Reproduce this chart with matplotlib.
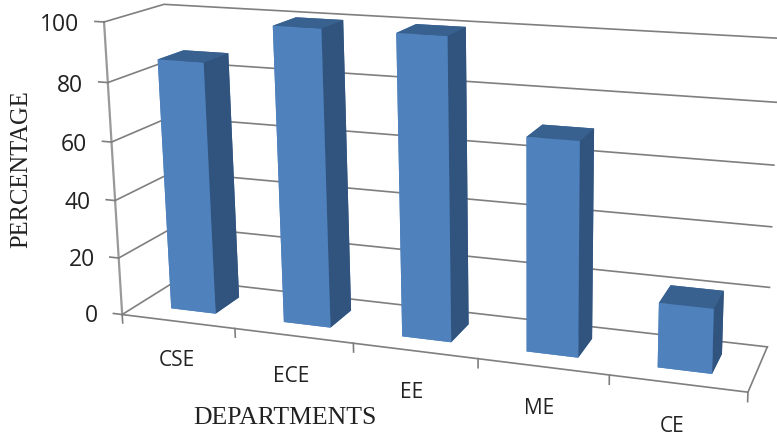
#!/usr/bin/env python3
"""3D column chart: percentage per department."""

import matplotlib
matplotlib.use("Agg")
import matplotlib.pyplot as plt

departments = ["CSE", "ECE", "EE", "ME", "CE"]
percentages = [86.5, 100, 100, 70, 21]
y_ticks = [0, 20, 40, 60, 80, 100]

COLOR_FRONT = "#4f81bd"
COLOR_SIDE = "#31547f"
COLOR_TOP = "#38618f"
COLOR_GRID = "#7f7f7f"
COLOR_AXIS = "#999999"
COLOR_TEXT = "#222222"

DEPTH = 0.87      # floor depth, in category widths
BAR_W = 0.40
BAR_D = 0.39

# Camera: the axes square is centred on the reference's principal point and
# the limits below put the aim point of the view on that same point.
FIG_W, FIG_H = 777, 435
AX_SIZE = 1126
CX, CY = 515, 108

fig = plt.figure(figsize=(FIG_W / 100, FIG_H / 100), dpi=100)
ax = fig.add_axes([(CX - AX_SIZE / 2) / FIG_W, (FIG_H - CY - AX_SIZE / 2) / FIG_H,
                   AX_SIZE / FIG_W, AX_SIZE / FIG_H],
                  projection="3d", computed_zorder=False)
ax.set_proj_type("persp", focal_length=0.25)
ax.view_init(elev=12.6, azim=-72.5, roll=0)
ax.set_box_aspect((1, 1, 1))
ax.set_axis_off()
ax.set_xticks([])
ax.set_yticks([])
ax.set_zticks([])

n = len(departments)

# floor and walls
ax.plot([0, n, n], [0, 0, DEPTH], [0, 0, 0], color=COLOR_GRID, lw=1.2, zorder=1)
ax.plot([0, 0], [0, 0], [0, 100], color=COLOR_AXIS, lw=1.6, zorder=1)
for t in y_ticks:
    ax.plot([0, 0, n], [0, DEPTH, DEPTH], [t, t, t], color=COLOR_GRID, lw=1.2, zorder=1)
    ax.plot([0, -0.08], [0, 0], [t, t], color=COLOR_GRID, lw=1.2, zorder=1)
    ax.text(-0.22, 0, t - 1.3, str(t), ha="right", va="center", family="Open Sans",
            fontsize=16.5, color=COLOR_TEXT)

# category ticks
for i in range(n + 1):
    ax.plot([i, i], [0, 0], [0, -3], color=COLOR_GRID, lw=1.2, zorder=1)

for i, (name, val) in enumerate(zip(departments, percentages)):
    ax.bar3d(i + 0.5 - BAR_W / 2, DEPTH / 2 - BAR_D / 2, 0, BAR_W, BAR_D, val,
             color=[COLOR_FRONT, COLOR_TOP, COLOR_FRONT, COLOR_TOP, COLOR_FRONT, COLOR_SIDE],
             shade=False, zorder=2)
    ax.text(i + 0.47, 0, -13.8, name, ha="center", va="center", family="Open Sans",
            fontsize=15, color=COLOR_TEXT)

# limits are set last, in world units of 1 category; z is scaled to percent
ax.set_xlim(0.318, 5.644)
ax.set_ylim(-1.322, 4.004)
ax.set_zlim(-39.5, 186.1)

fig.text(21 / FIG_W, 1 - 169 / FIG_H, "PERCENTAGE", rotation=90, ha="center", va="center",
         family="Liberation Serif", fontsize=17.7, color=COLOR_TEXT)
fig.text(285 / FIG_W, 1 - 418 / FIG_H, "DEPARTMENTS", ha="center", va="center",
         family="Liberation Serif", fontsize=18.5, color=COLOR_TEXT)

fig.savefig("out.png", dpi=100)
